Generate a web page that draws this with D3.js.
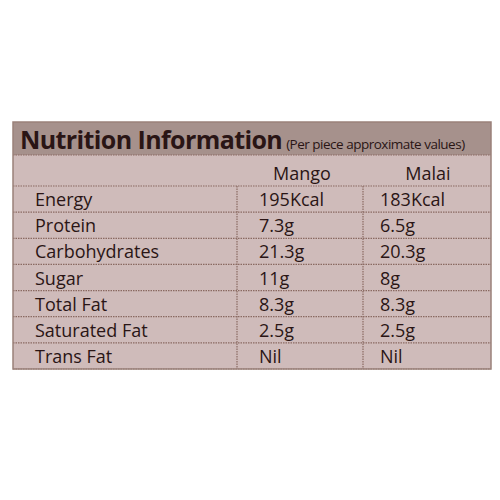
<!DOCTYPE html><html><head><meta charset="utf-8"><script src="https://cdn.jsdelivr.net/npm/d3@7"></script>
<style>body{margin:0;background:#fff}</style></head><body><svg id="c" width="500" height="500"></svg>
<script>
const columns=["Mango","Malai"];
const nutrients=["Energy","Protein","Carbohydrates","Sugar","Total Fat","Saturated Fat","Trans Fat"];
const mango=["195Kcal","7.3g","21.3g","11g","8.3g","2.5g","Nil"];
const malai=["183Kcal","6.5g","20.3g","8g","8.3g","2.5g","Nil"];
const svg=d3.select("#c");
const x0=13,x1=491,yTop=122,hdr=155,colRowB=186,bottom=369;
const y=d3.scaleBand().domain(nutrients).range([colRowB,bottom]);
const xc=d3.scaleOrdinal().domain(["label",...columns]).range([x0,237,363]);
svg.append("rect").attr("x",x0).attr("y",yTop).attr("width",x1-x0).attr("height",bottom-yTop).attr("fill","#cfbbba");
svg.append("rect").attr("x",x0).attr("y",yTop).attr("width",x1-x0).attr("height",hdr-yTop).attr("fill","#a6918c");
const ff="'Open Sans','Noto Sans',sans-serif";
const t=svg.append("text").attr("x",20).attr("y",149).attr("font-family",ff).attr("fill","#2a1515");
t.append("tspan").attr("font-size",25).attr("font-weight","bold").attr("letter-spacing",-0.6).text("Nutrition Information");
t.append("tspan").attr("font-size",13.5).attr("dx",4).attr("letter-spacing",-0.5).text("(Per piece approximate values)");
const line=(xa,ya,xb,yb)=>svg.append("line").attr("x1",xa).attr("y1",ya).attr("x2",xb).attr("y2",yb).attr("stroke","#8a6a62").attr("stroke-width",1.2).attr("stroke-dasharray","1.5,1");
line(x0,hdr,x1,hdr);
nutrients.forEach(n=>line(x0,y(n),x1,y(n)));
line(x0,bottom,x1,bottom);
columns.forEach(c=>line(xc(c),colRowB,xc(c),bottom));
svg.append("rect").attr("x",x0).attr("y",yTop).attr("width",x1-x0).attr("height",bottom-yTop).attr("fill","none").attr("stroke","#9a817a").attr("stroke-width",1.5);
const txt=(x,yy,s,anchor)=>svg.append("text").attr("x",x).attr("y",yy).attr("font-family",ff).attr("font-size",18).attr("fill","#2a1515").attr("text-anchor",anchor||"start").text(s);
txt(302,180,columns[0],"middle");txt(428,180,columns[1],"middle");
nutrients.forEach((n,i)=>{const yy=y(n)+y.bandwidth()-6;txt(35,yy,n);txt(259,yy,mango[i]);txt(380,yy,malai[i]);});
</script></body></html>
